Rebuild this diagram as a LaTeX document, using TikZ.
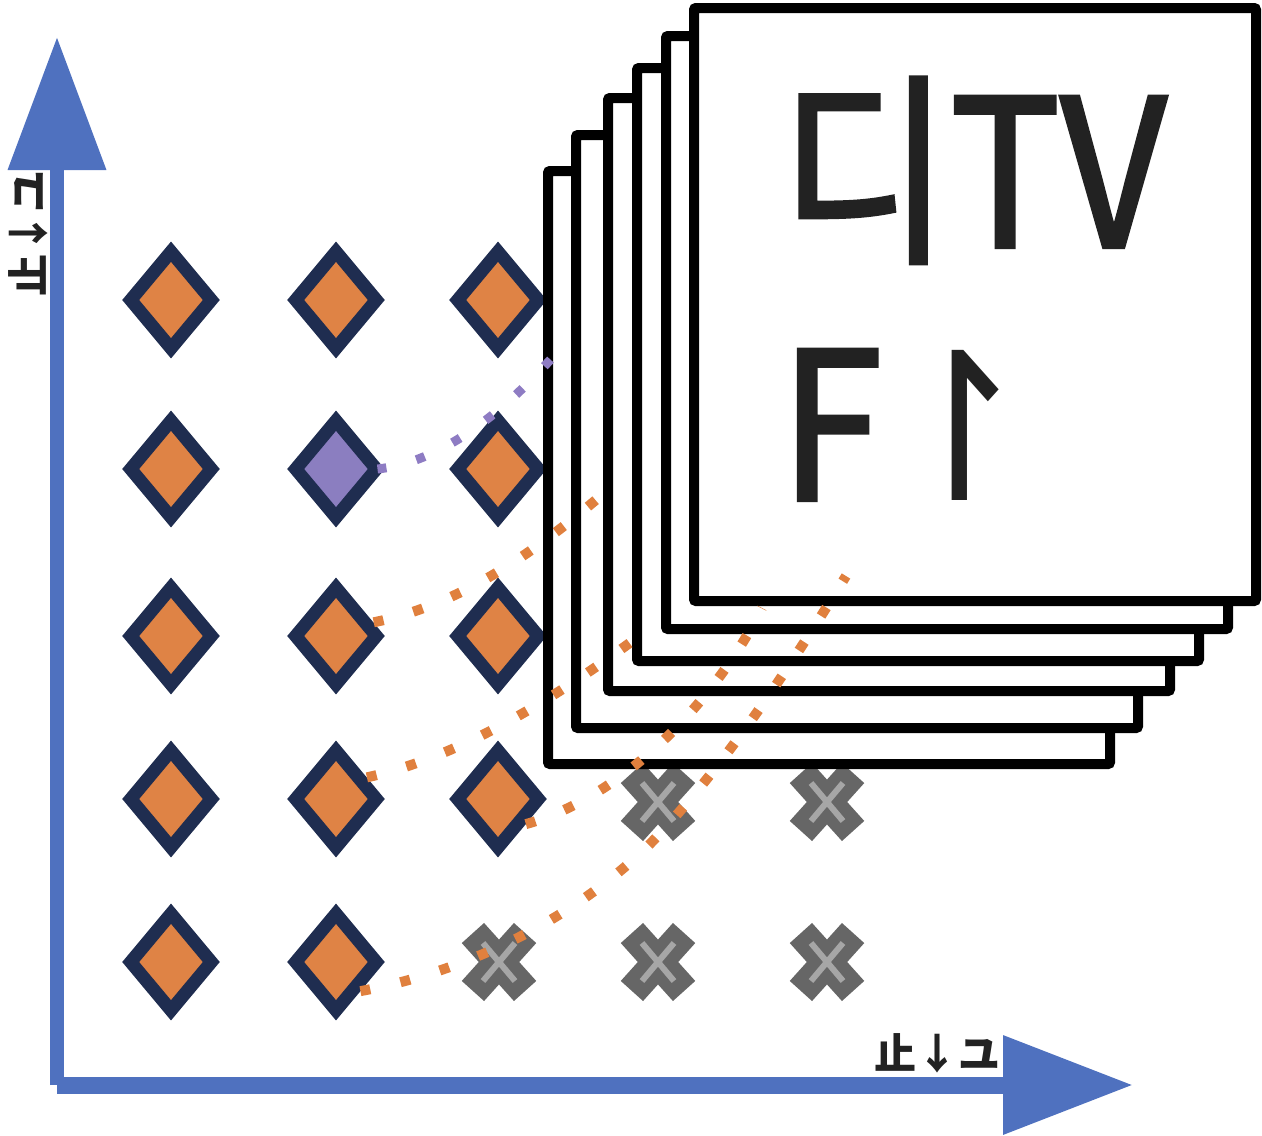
\documentclass[tikz,border=0pt]{standalone}
\usepackage{fontspec}
\usetikzlibrary{arrows.meta, shapes.geometric}
\newfontfamily\cjkfont{Noto Sans CJK KR}
\newfontfamily\cjkheavy{Noto Sans CJK KR}[FakeBold=2]
\newfontfamily\arrowfont{DejaVu Sans}
\definecolor{axisblue}{RGB}{79,113,191}
\definecolor{tilenavy}{RGB}{31,45,80}
\definecolor{tileorange}{RGB}{223,131,69}
\definecolor{pickpurple}{RGB}{139,126,192}
\definecolor{crossgray}{RGB}{102,102,102}
\definecolor{crosslight}{RGB}{166,166,166}
\definecolor{dotorange}{RGB}{224,128,62}
\definecolor{dotpurple}{RGB}{142,124,195}
\definecolor{inkgray}{RGB}{34,34,34}

\tikzset{
  tile/.style={diamond, draw=tilenavy, fill=tileorange, line width=13pt,
    minimum width=86pt, minimum height=102pt, inner sep=0pt},
  picked/.style={tile, fill=pickpurple},
  sheet/.style={draw=black, fill=white, line width=10pt, rounded corners=2pt},
  orangedots/.style={draw=dotorange, line width=10pt, dash pattern=on 10pt off 31pt},
  purpledots/.style={draw=dotpurple, line width=9pt, dash pattern=on 9pt off 31pt},
  bigtext/.style={text=inkgray, inner sep=0pt, xscale=0.9,
    font=\cjkheavy\fontsize{205pt}{205pt}\selectfont},
  axisname/.style={text=inkgray, inner sep=0pt,
    font=\cjkfont\bfseries\fontsize{42pt}{42pt}\selectfont},
  xmark/.pic={
    \fill[crossgray, rotate=48] (-39,-15) rectangle (39,15);
    \fill[crossgray, rotate=-48] (-39,-15) rectangle (39,15);
    \draw[crosslight, line width=6pt] (-16,-19) -- (16,19) (-16,19) -- (16,-19);
  }
}

\begin{document}
\begin{tikzpicture}[x=1pt, y=-1pt]
\useasboundingbox (0,0) rectangle (1262,1136);
% axes
\draw[axisblue, line width=14pt, -{Triangle[length=133pt, width=95pt]}] (57,1085) -- (57,37);
\draw[axisblue, line width=17pt, -{Triangle[length=130pt, width=95pt]}] (57,1085) -- (1133,1085);
\node[axisname, anchor=base east] (xname) at (1001,1069) {止↓ユ};
\node[axisname, rotate=90, anchor=base east] (yname) at (44,170) {止↓ユ};
% grid of tiles
\foreach \r/\y in {1/300,2/469,3/636,4/799}
  \foreach \c/\x in {1/171,2/336,3/498}{
    \ifnum\r\c=22 \def\look{picked}\else\def\look{tile}\fi
    \node[\look] (d\r\c) at (\x,\y) {};
  }
\node[tile] (d51) at (171,962) {};
\node[tile] (d52) at (336,962) {};
% dropped tiles
\foreach \x/\y in {658/802, 827/802, 499/962, 658/962, 827/962}
  \pic at (\x,\y) {xmark};
% stack of pages
\foreach \x/\y in {548/171, 576/135, 608/98, 637/68, 666/36, 694/8}
  \draw[sheet] (\x,\y) rectangle ++(562,593);
\node[bigtext, anchor=base west] (cachetop) at (780,247) {디TV};
\node[bigtext, anchor=base west] (cachebot) at (780,500) {F{\arrowfont ↾}};
% dotted links
\coordinate (p0) at (551,359);
\coordinate (p1) at (597,499);
\coordinate (p2) at (631,642);
\coordinate (p3) at (762,608);
\coordinate (bend) at (649,845);
\coordinate (p4) at (846,576);
\draw[purpledots] ([xshift=-8pt]d22.east) .. controls (443,462) and (505,410) .. (p0);
\draw[orangedots] (d32.20) .. controls +(85,-17) and +(-65,55) .. (p1);
\draw[orangedots] (d42.35) .. controls +(95,-21) and +(-75,55) .. (p2);
\draw[orangedots] (d43.-42) .. controls +(100,-28) and +(-45,90) .. (p3);
\draw[orangedots] (d52.-50) .. controls (464,972) and (570,922) .. (bend)
  .. controls (725,766) and (788,670) .. (p4);
\end{tikzpicture}
\end{document}
